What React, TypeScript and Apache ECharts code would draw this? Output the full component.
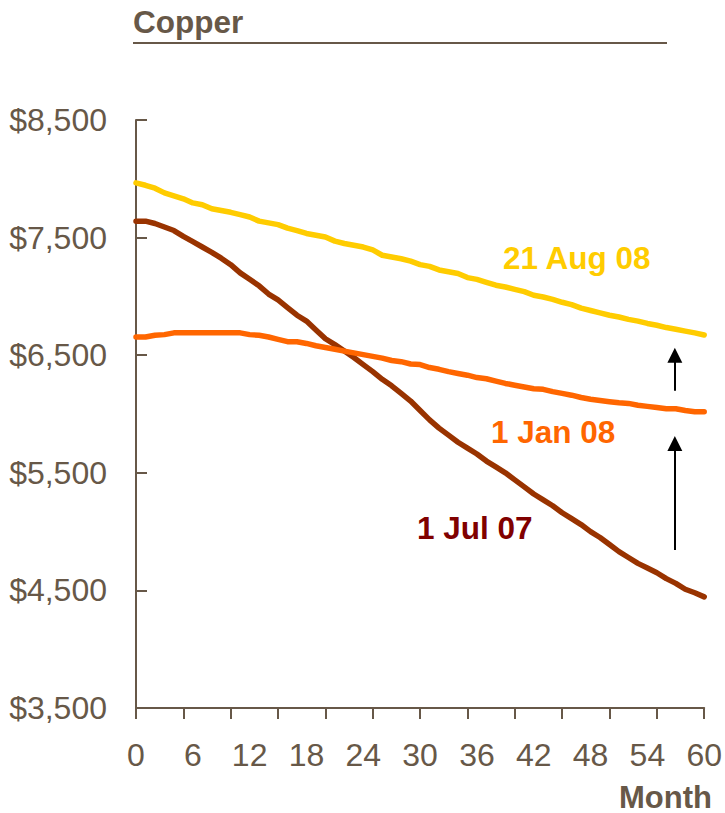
import React, { useEffect, useRef } from "react";
import * as echarts from "echarts";

const months = [
  0, 1, 2, 3, 4, 5, 6, 7, 8, 9, 10, 11, 12, 13, 14, 15, 16, 17, 18, 19, 20,
  21, 22, 23, 24, 25, 26, 27, 28, 29, 30, 31, 32, 33, 34, 35, 36, 37, 38, 39, 40,
  41, 42, 43, 44, 45, 46, 47, 48, 49, 50, 51, 52, 53, 54, 55, 56, 57, 58, 59, 60,
];

const aug08 = [
  7965, 7945, 7920, 7880, 7855, 7830, 7795, 7780, 7745, 7730, 7715, 7695, 7675,
  7640, 7625, 7610, 7580, 7560, 7535, 7520, 7505, 7470, 7450, 7435, 7420, 7395,
  7350, 7335, 7320, 7300, 7270, 7255, 7225, 7210, 7195, 7160, 7145, 7120, 7095,
  7080, 7060, 7040, 7010, 6995, 6975, 6950, 6930, 6900, 6880, 6860, 6840, 6825,
  6805, 6790, 6770, 6755, 6735, 6720, 6705, 6690, 6672,
];

const jan08 = [
  6655, 6655, 6670, 6675, 6690, 6690, 6690, 6690, 6690, 6690, 6690, 6690, 6675,
  6670, 6655, 6635, 6615, 6615, 6600, 6580, 6565, 6550, 6535, 6520, 6505, 6490,
  6475, 6455, 6445, 6425, 6420, 6395, 6380, 6360, 6345, 6330, 6310, 6300, 6280,
  6260, 6245, 6230, 6215, 6210, 6190, 6175, 6160, 6140, 6125, 6115, 6105, 6095,
  6090, 6075, 6065, 6055, 6045, 6045, 6030, 6020, 6020,
];

const jul07 = [
  7640, 7640, 7620, 7590, 7560, 7510, 7465, 7420, 7375, 7325, 7270, 7200, 7145,
  7090, 7020, 6970, 6905, 6840, 6790, 6715, 6640, 6590, 6535, 6480, 6420, 6360,
  6295, 6240, 6175, 6110, 6030, 5950, 5880, 5820, 5760, 5710, 5660, 5600, 5550,
  5500, 5440, 5380, 5320, 5270, 5220, 5160, 5110, 5060, 5000, 4950, 4890, 4830,
  4780, 4730, 4690, 4650, 4600, 4560, 4510, 4480, 4445,
];

const seriesNames = ["21 Aug 08", "1 Jan 08", "1 Jul 07"];
const lineColors = ["#FFCC00", "#FF6600", "#993300"];
const labelColors = ["#FFCC00", "#FF6600", "#800000"];

// arrows: [month, fromValue, toValue]
const arrows = [
  [56.9, 6198, 6500],
  [56.9, 4844, 5750],
];

const TEXT = "#675848";
const FONT = '"Liberation Sans", Arial, sans-serif';

export default function App() {
  const ref = useRef<HTMLDivElement>(null);

  useEffect(() => {
    const chart = echarts.init(ref.current!, null, { renderer: "svg" });
    const allSeries = [aug08, jan08, jul07];

    const series: any[] = allSeries.map((vals, i) => ({
      name: seriesNames[i],
      type: "line",
      data: months.map((m, j) => [m, vals[j]]),
      showSymbol: false,
      symbol: "none",
      lineStyle: { color: lineColors[i], width: 5.5, join: "round", cap: "round" },
      itemStyle: { color: lineColors[i] },
      z: 3 - i,
    }));

    series.push({
      type: "line",
      data: [],
      markLine: {
        silent: true,
        symbol: ["none", "triangle"],
        symbolSize: [15, 15],
        label: { show: false },
        lineStyle: { color: "#000", width: 2, type: "solid" },
        data: arrows.map((a) => [
          { coord: [a[0], a[1]] },
          { coord: [a[0], a[2]] },
        ]),
      },
    });

    const annot = (i: number, x: number, y: number) => ({
      type: "text",
      x,
      y,
      style: {
        text: seriesNames[i],
        font: `bold 31.5px ${FONT}`,
        fill: labelColors[i],
        align: "left",
        verticalAlign: "middle",
      },
    });

    chart.setOption({
      animation: false,
      textStyle: { fontFamily: FONT },
      grid: { left: 136, right: 19, top: 120, bottom: 105, containLabel: false },
      xAxis: [
        {
          type: "value",
          min: 0,
          max: 60,
          interval: 6,
          axisLine: { show: true, lineStyle: { color: TEXT, width: 2 } },
          axisTick: { show: false },
          splitLine: { show: false },
          axisLabel: { color: TEXT, fontSize: 32, fontFamily: FONT, margin: 31 },
        },
        {
          type: "value",
          position: "bottom",
          min: 0,
          max: 60,
          interval: 5,
          axisLine: { show: false },
          axisTick: { show: true, length: 11, lineStyle: { color: TEXT, width: 2 } },
          splitLine: { show: false },
          axisLabel: { show: false },
        },
      ],
      yAxis: {
        type: "value",
        min: 3500,
        max: 8500,
        interval: 1000,
        offset: 3,
        axisLine: { show: true, lineStyle: { color: TEXT, width: 2 } },
        axisTick: { show: true, inside: true, length: 11, lineStyle: { color: TEXT, width: 2 } },
        splitLine: { show: false },
        axisLabel: {
          color: TEXT,
          fontSize: 32,
          fontFamily: FONT,
          margin: 26,
          formatter: (v: number) => "$" + v.toLocaleString("en-US"),
        },
      },
      series,
      graphic: [
        {
          type: "text",
          x: 133,
          y: 22,
          style: {
            text: "Copper",
            font: `bold 31.5px ${FONT}`,
            fill: TEXT,
            align: "left",
            verticalAlign: "middle",
          },
        },
        {
          type: "line",
          shape: { x1: 133, y1: 43, x2: 667, y2: 43 },
          style: { stroke: TEXT, lineWidth: 2 },
        },
        {
          type: "text",
          x: 712,
          y: 797,
          style: {
            text: "Month",
            font: `bold 31px ${FONT}`,
            fill: TEXT,
            align: "right",
            verticalAlign: "middle",
          },
        },
        annot(0, 503, 258),
        annot(1, 491, 432),
        annot(2, 417, 528),
      ],
    });

    return () => chart.dispose();
  }, []);

  return (
    <div
      ref={ref}
      style={{ position: "fixed", left: 0, top: 0, width: 725, height: 813, background: "#fff" }}
    />
  );
}
